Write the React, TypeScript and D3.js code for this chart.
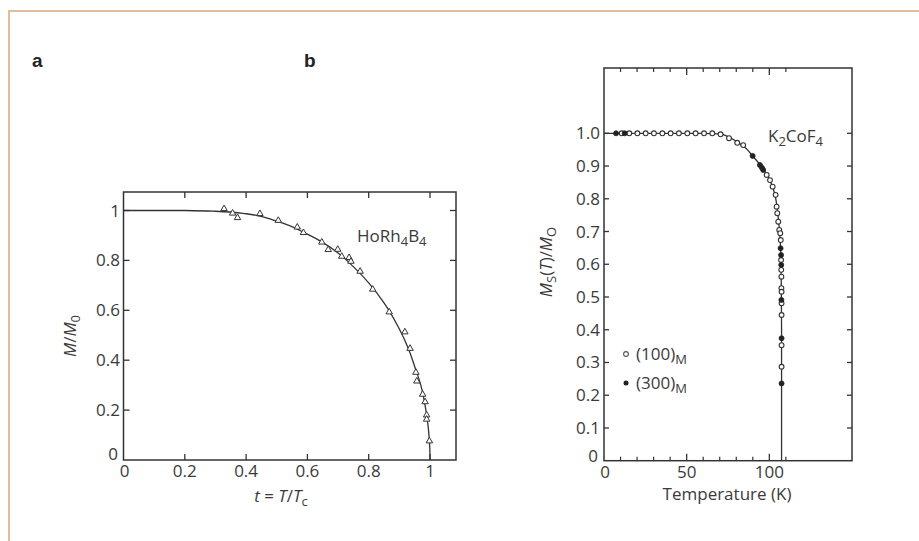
import React from "react";
import * as d3 from "d3";

// ---------- Panel a data (HoRh4B4) ----------
const aTriT = [0.328, 0.356, 0.372, 0.445, 0.505, 0.567, 0.587, 0.647, 0.668, 0.699, 0.712, 0.736, 0.742, 0.772, 0.813, 0.867, 0.918, 0.935, 0.954, 0.957, 0.976, 0.984, 0.989, 0.989, 0.998];
const aTriM = [1.007, 0.989, 0.971, 0.987, 0.96, 0.933, 0.911, 0.873, 0.843, 0.844, 0.816, 0.811, 0.796, 0.756, 0.684, 0.593, 0.513, 0.447, 0.351, 0.316, 0.263, 0.233, 0.18, 0.163, 0.076];
const aCurveT = [0, 0.1, 0.2, 0.3, 0.4, 0.5, 0.6, 0.7, 0.75, 0.8, 0.85, 0.9, 0.93, 0.95, 0.97, 0.98, 0.99, 0.995, 0.999, 1.0];
const aCurveM = [1, 1, 1, 0.997, 0.987, 0.957, 0.905, 0.83, 0.775, 0.71, 0.63, 0.525, 0.445, 0.375, 0.3, 0.245, 0.172, 0.122, 0.055, 0];
const aXTicks = [0, 0.2, 0.4, 0.6, 0.8, 1];
const aXTickLabels = ["0", "0.2", "0.4", "0.6", "0.8", "1"];
const aYTicks = [0, 0.2, 0.4, 0.6, 0.8, 1];
const aYTickLabels = ["0", "0.2", "0.4", "0.6", "0.8", "1"];

// ---------- Panel b data (K2CoF4) ----------
const bOpenT = [10.7, 15.3, 20.2, 25.2, 30.2, 35.3, 40.3, 45.3, 50.4, 55.4, 60.5, 65.5, 70.5, 75.6, 80.6, 84.2, 98.4, 100.4, 102, 103.8, 104.4, 104.8, 105.4, 106, 106.6, 106.9, 107.1, 107.2, 107.3, 107.3, 107.4, 107.4, 107.4, 107.4, 107.4];
const bOpenM = [1.0, 1.0, 1.0, 1.0, 1.0, 1.0, 1.0, 1.0, 1.0, 1.0, 1.0, 1.0, 0.997, 0.985, 0.971, 0.964, 0.873, 0.857, 0.837, 0.812, 0.776, 0.756, 0.73, 0.705, 0.695, 0.674, 0.613, 0.583, 0.562, 0.527, 0.516, 0.481, 0.445, 0.353, 0.287, 0.17];
const bFilledT = [7.3, 12.5, 89.9, 94.3, 95.5, 96.3, 106.8, 107.1, 107.2, 107.3, 107.4, 107.4];
const bFilledM = [1.0, 1.0, 0.931, 0.903, 0.895, 0.888, 0.649, 0.628, 0.598, 0.491, 0.374, 0.236];
const bCurveT = [0, 20, 40, 60, 70, 75, 80, 85, 90, 95, 100, 103, 105, 106, 106.8, 107.2, 107.4, 107.4];
const bCurveM = [1, 1, 1, 1, 0.998, 0.99, 0.975, 0.958, 0.93, 0.9, 0.86, 0.82, 0.76, 0.71, 0.65, 0.55, 0.4, 0];
const bXMajor = [0, 50, 100];
const bXMinor = [10, 20, 30, 40, 60, 70, 80, 90, 110];
const bYTicks = [0, 0.1, 0.2, 0.3, 0.4, 0.5, 0.6, 0.7, 0.8, 0.9, 1.0];
const bYTickLabels = ["0", "0.1", "0.2", "0.3", "0.4", "0.5", "0.6", "0.7", "0.8", "0.9", "1.0"];

const FONT = "'Open Sans', 'DejaVu Sans', sans-serif";
const TXT = "#3a3a3a";
const AX = "#333";
const FS = 17;
const SUB = 13;

export default function App() {
  // Panel a scales
  const ax = d3.scaleLinear().domain([0, 1]).range([123.5, 430]);
  const ay = d3.scaleLinear().domain([0, 1]).range([460, 210.5]);
  const aL = 123.5, aR = 456, aT = 192, aB = 460;

  // Panel b scales
  const bx = d3.scaleLinear().domain([0, 150]).range([604, 852]);
  const by = d3.scaleLinear().domain([0, 1]).range([460.7, 133.3]);
  const bL = 604, bR = 852, bT = 68, bB = 460.7;

  const aLine = d3.line<number>().x((d, i) => ax(aCurveT[i])).y((d, i) => ay(aCurveM[i])).curve(d3.curveMonotoneY);
  const bLine = d3.line<number>().x((d, i) => bx(bCurveT[i])).y((d, i) => by(bCurveM[i])).curve(d3.curveMonotoneY);
  const tri = d3.symbol().type(d3.symbolTriangle).size(18)();

  const tickLen = 6;
  const labelFont = "'Liberation Sans Narrow', 'Liberation Sans', Arial, sans-serif";

  return (
    <svg width={919} height={541} style={{ position: "absolute", left: 0, top: 0, background: "#fff" }} fontFamily={FONT}>
      {/* outer tan frame */}
      <line x1={8} y1={11} x2={919} y2={11} stroke="#e2bd9c" strokeWidth={2} />
      <line x1={9} y1={10} x2={9} y2={541} stroke="#e2bd9c" strokeWidth={2} />

      {/* panel labels */}
      <text x={32} y={67} fontFamily={labelFont} fontWeight="bold" fontSize={19} fill="#222">a</text>
      <text x={304} y={67} fontFamily={labelFont} fontWeight="bold" fontSize={19} fill="#222">b</text>

      {/* ---------- Panel a ---------- */}
      <rect x={aL} y={aT} width={aR - aL} height={aB - aT} fill="none" stroke={AX} strokeWidth={1.5} />
      {aXTicks.slice(1).map((v) => (
        <g key={"axt" + v}>
          <line x1={ax(v)} x2={ax(v)} y1={aB} y2={aB - tickLen} stroke={AX} strokeWidth={1.3} />
          <line x1={ax(v)} x2={ax(v)} y1={aT} y2={aT + tickLen} stroke={AX} strokeWidth={1.3} />
        </g>
      ))}
      {aYTicks.slice(1).map((v) => (
        <g key={"ayt" + v}>
          <line x1={aL} x2={aL + tickLen} y1={ay(v)} y2={ay(v)} stroke={AX} strokeWidth={1.3} />
          <line x1={aR} x2={aR - tickLen} y1={ay(v)} y2={ay(v)} stroke={AX} strokeWidth={1.3} />
        </g>
      ))}
      {aXTicks.map((v, i) => (
        <text key={"axl" + v} x={ax(v) + (i === 0 ? 1 : 0)} y={477} textAnchor="middle" fontSize={FS} fill={TXT}>{aXTickLabels[i]}</text>
      ))}
      {aYTicks.map((v, i) => (
        <text key={"ayl" + v} x={i === 0 ? 118 : 120} y={i === 0 ? ay(v) : ay(v) + 6} textAnchor="end" fontSize={FS} fill={TXT}>{aYTickLabels[i]}</text>
      ))}
      <path d={aLine(aCurveT) || ""} fill="none" stroke="#333" strokeWidth={1.3} />
      {aTriT.map((t, i) => (
        <path key={"tri" + i} d={tri || ""} transform={`translate(${ax(t)},${ay(aTriM[i])})`} fill="#fff" stroke="#333" strokeWidth={1} />
      ))}
      <text x={357} y={242} fontSize={FS} fill={TXT}>
        HoRh<tspan fontSize={SUB} dy={4}>4</tspan><tspan dy={-4}>B</tspan><tspan fontSize={SUB} dy={4}>4</tspan>
      </text>
      <text x={281} y={502} textAnchor="middle" fontSize={FS} fill={TXT}>
        <tspan fontStyle="italic">t</tspan> = <tspan fontStyle="italic">T</tspan>/<tspan fontStyle="italic">T</tspan><tspan fontSize={SUB} dy={4}>c</tspan>
      </text>
      <text transform="translate(76,336) rotate(-90)" textAnchor="middle" fontSize={FS} fill={TXT}>
        <tspan fontStyle="italic">M</tspan>/<tspan fontStyle="italic">M</tspan><tspan fontSize={SUB} dy={4}>0</tspan>
      </text>

      {/* ---------- Panel b ---------- */}
      <rect x={bL} y={bT} width={bR - bL} height={bB - bT} fill="none" stroke={AX} strokeWidth={1.5} />
      {bXMinor.map((v) => (
        <g key={"bxm" + v}>
          <line x1={bx(v)} x2={bx(v)} y1={bB} y2={bB - 4} stroke={AX} strokeWidth={1.2} />
          <line x1={bx(v)} x2={bx(v)} y1={bT} y2={bT + 4} stroke={AX} strokeWidth={1.2} />
        </g>
      ))}
      {bXMajor.slice(1).map((v) => (
        <g key={"bxM" + v}>
          <line x1={bx(v)} x2={bx(v)} y1={bB} y2={bB - 7} stroke={AX} strokeWidth={1.3} />
          <line x1={bx(v)} x2={bx(v)} y1={bT} y2={bT + 7} stroke={AX} strokeWidth={1.3} />
        </g>
      ))}
      {bYTicks.slice(1).map((v) => (
        <g key={"byt" + v}>
          <line x1={bL} x2={bL + 5} y1={by(v)} y2={by(v)} stroke={AX} strokeWidth={1.3} />
          <line x1={bR} x2={bR - 5} y1={by(v)} y2={by(v)} stroke={AX} strokeWidth={1.3} />
        </g>
      ))}
      {bXMajor.map((v) => (
        <text key={"bxl" + v} x={bx(v) + (v === 0 ? 1 : 0)} y={478} textAnchor="middle" fontSize={FS} fill={TXT}>{String(v)}</text>
      ))}
      {bYTicks.map((v, i) => (
        <text key={"byl" + v} x={i === 0 ? 598 : 600} y={i === 0 ? by(v) + 1 : by(v) + 6} textAnchor="end" fontSize={FS} fill={TXT}>{bYTickLabels[i]}</text>
      ))}
      <path d={bLine(bCurveT) || ""} fill="none" stroke="#333" strokeWidth={1.3} />
      {bOpenT.map((t, i) => (
        <circle key={"bo" + i} cx={bx(t)} cy={by(bOpenM[i])} r={2.4} fill="#fff" stroke="#333" strokeWidth={1.1} />
      ))}
      {bFilledT.map((t, i) => (
        <circle key={"bf" + i} cx={bx(t)} cy={by(bFilledM[i])} r={2.5} fill="#222" stroke="#222" strokeWidth={0.8} />
      ))}
      <text x={768} y={142} fontSize={FS} fill={TXT}>
        K<tspan fontSize={SUB} dy={4}>2</tspan><tspan dy={-4}>CoF</tspan><tspan fontSize={SUB} dy={4}>4</tspan>
      </text>
      <text x={727} y={500} textAnchor="middle" fontSize={FS} fill={TXT}>Temperature (K)</text>
      <text transform="translate(552,262) rotate(-90)" textAnchor="middle" fontSize={FS} fill={TXT}>
        <tspan fontStyle="italic">M</tspan><tspan fontSize={SUB} dy={4}>S</tspan><tspan dy={-4}>(</tspan><tspan fontStyle="italic">T</tspan>)/<tspan fontStyle="italic">M</tspan><tspan fontSize={SUB} dy={4}>O</tspan>
      </text>
      {/* legend */}
      <circle cx={626} cy={354} r={2.4} fill="#fff" stroke="#555" strokeWidth={1.1} />
      <text x={636} y={360} fontSize={FS} fill={TXT}>(100)<tspan fontSize={SUB} dy={4}>M</tspan></text>
      <circle cx={626} cy={383} r={2.5} fill="#222" />
      <text x={636} y={389} fontSize={FS} fill={TXT}>(300)<tspan fontSize={SUB} dy={4}>M</tspan></text>
    </svg>
  );
}
